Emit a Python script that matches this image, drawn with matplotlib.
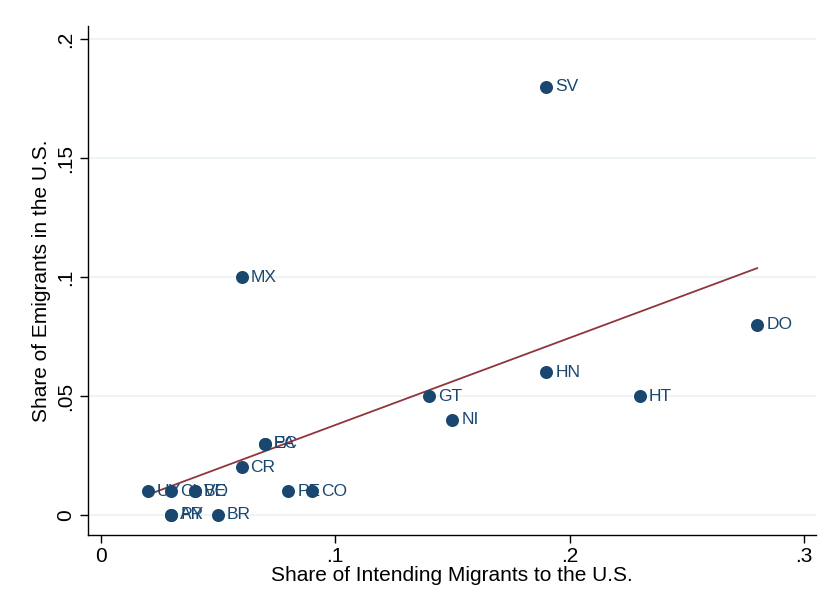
import numpy as np
import matplotlib
matplotlib.use("Agg")
import matplotlib.pyplot as plt

plt.rcParams['font.family'] = ['Liberation Sans', 'DejaVu Sans']

countries = ["SV", "MX", "DO", "HN", "HT", "GT", "NI", "PA", "EC", "CR",
             "UY", "CL", "BO", "VE", "AR", "PY", "BR", "PE", "CO"]
intending = [0.19, 0.06, 0.28, 0.19, 0.23, 0.14, 0.15, 0.07, 0.07, 0.06,
             0.02, 0.03, 0.04, 0.04, 0.03, 0.03, 0.05, 0.08, 0.09]
emigrants = [0.18, 0.10, 0.08, 0.06, 0.05, 0.05, 0.04, 0.03, 0.03, 0.02,
             0.01, 0.01, 0.01, 0.01, 0.00, 0.00, 0.00, 0.01, 0.01]

xticks = [0, 0.1, 0.2, 0.3]
xticklabels = ["0", ".1", ".2", ".3"]
yticks = [0, 0.05, 0.1, 0.15, 0.2]
yticklabels = ["0", ".05", ".1", ".15", ".2"]

navy = "#1a476f"
maroon = "#90353b"

fig = plt.figure(figsize=(8.21, 5.91), dpi=100)
ax = fig.add_axes([0.1072, 0.0948, 0.8867, 0.8612])

x = np.array(intending)
y = np.array(emigrants)

# linear fit over the observed range
b, a = np.polyfit(x, y, 1)
xf = np.array([x.min(), x.max()])
ax.plot(xf, a + b * xf, color=maroon, lw=1.3, zorder=2)

ax.scatter(x, y, s=88, color=navy, zorder=3, linewidths=0)
for name, xi, yi in zip(countries, x, y):
    ax.annotate(name, (xi, yi), xytext=(6.5, 0), textcoords="offset points",
                ha="left", va="center", color=navy, fontsize=12.5, zorder=4)

ax.set_xlim(-0.0055, 0.3051)
ax.set_ylim(-0.0084, 0.2055)
ax.set_xticks(xticks)
ax.set_xticklabels(xticklabels)
ax.set_yticks(yticks)
ax.set_yticklabels(yticklabels, rotation=90, va="center")
ax.tick_params(axis="both", direction="out", length=6, width=1, labelsize=15)
ax.tick_params(axis="x", pad=3)
ax.tick_params(axis="y", pad=3)
ax.yaxis.grid(True, color="#eaf2f3", lw=1.2)
ax.set_axisbelow(True)
for s in ("top", "right"):
    ax.spines[s].set_visible(False)
for s in ("left", "bottom"):
    ax.spines[s].set_linewidth(1)

ax.set_xlabel("Share of Intending Migrants to the U.S.", fontsize=15, labelpad=0)
ax.set_ylabel("Share of Emigrants in the U.S.", fontsize=15, labelpad=4)

fig.savefig("out.png", dpi=100)
